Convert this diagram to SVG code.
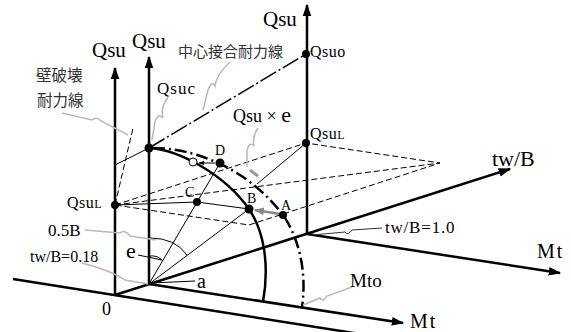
<svg xmlns="http://www.w3.org/2000/svg" width="571" height="332" viewBox="0 0 571 332">
<defs>
<marker id="arr" viewBox="0 0 10 10" refX="9" refY="5" markerWidth="5" markerHeight="5" orient="auto" markerUnits="strokeWidth"><path d="M0,1.5 L10,5 L0,8.5 Z" fill="#000"/></marker>
<marker id="arrs" viewBox="0 0 10 10" refX="9" refY="5" markerWidth="6" markerHeight="6" orient="auto" markerUnits="strokeWidth"><path d="M0,1 L10,5 L0,9 Z" fill="#000"/></marker>
<marker id="arrg" viewBox="0 0 10 10" refX="9" refY="5" markerWidth="4" markerHeight="4" orient="auto" markerUnits="strokeWidth"><path d="M0,1 L10,5 L0,9 Z" fill="#888"/></marker>
<pattern id="dots" width="5" height="5" patternUnits="userSpaceOnUse"><circle cx="1.5" cy="1.5" r="1" fill="#d8d8d8"/></pattern>
<style>
.ax{stroke:#000;stroke-width:2.5;fill:none}
.thin{stroke:#000;stroke-width:1;fill:none}
.dash{stroke:#000;stroke-width:1;fill:none;stroke-dasharray:6,3}
.dd{stroke:#000;stroke-width:2.5;fill:none;stroke-dasharray:12,4,2,4}
.cl{stroke:#000;stroke-width:1.5;fill:none;stroke-dasharray:18,3,2,3}
.lead{stroke:#b8b8b8;stroke-width:1.5;fill:none}
.dot{fill:#000}
</style>
</defs>
<g id="plane">
<path d="M115,205 L306,143 L440,163 L249,225 Z" fill="url(#dots)" class="dash"/>
<path d="M115,205 L440,163" class="dash"/>
</g>
<g id="connectors">
<path d="M13,279 L360,334" class="ax"/>
<path d="M149,284 L403,323" class="ax" marker-end="url(#arr)"/>
<path d="M307,234 L560,273" class="ax" marker-end="url(#arr)"/>
<path d="M115,295 L510,169" class="ax" marker-end="url(#arr)"/>
<path d="M115,295 L115,68" class="ax" marker-end="url(#arr)"/>
<path d="M149,284 L149,57" class="ax" marker-end="url(#arr)"/>
<path d="M307,234 L307,5" class="ax" marker-end="url(#arr)"/>
<path d="M149,284 L220,163" class="thin"/>
<path d="M149,284 L249,209" class="thin"/>
<path d="M115,205 L197,202 L249,209" class="thin"/>
<path d="M115,165 L149,148" class="thin"/>
<path d="M115,205 L133,128" class="dash"/>
<path d="M149,148 L306,54" class="cl"/>
<path d="M149,148 C180,150 225,175 249,209 C263,230 270,262 263,302" stroke="#000" stroke-width="2.5" fill="none"/>
<path d="M153,148 C190,148 245,165 283,215 C295,232 308,265 302,307" class="dd"/>
<path d="M306,143 L257,184" class="thin"/>
<path d="M149,256 Q158,255 163,261" class="thin"/>
<path d="M150,238 Q175,238 187,255" class="thin"/>
<path d="M138,255 L162,260" class="thin"/>
<path d="M152,283 L195,281" class="thin"/>
<path d="M215,163 L199,163" class="thin" stroke-width="1.5" marker-end="url(#arrs)"/>
<path d="M280,214 L255,210" stroke="#888" stroke-width="2.5" fill="none" marker-end="url(#arrg)"/>
<path d="M62,113 L92,120 Q97,116 101,121 L128,135" class="lead"/>
<path d="M168,97 Q160,108 163,118 Q158,112 155,122 L152,140" class="lead"/>
<path d="M230,62 Q216,75 215,86 Q212,80 208,90 L203,110" class="lead"/>
<path d="M258,128 Q252,137 254,146 Q250,141 247,150 L247,167" class="lead"/>
<path d="M250,170 L258,176" stroke="#999" stroke-width="3"/>
<path d="M85,230 L120,233 Q125,229 130,236 L156,240" class="lead"/>
<path d="M82,263 Q110,270 125,280 L148,284" class="lead"/>
<path d="M303,305 L320,298 Q323,303 327,296 L352,287" class="lead"/>
<path d="M312,235 L345,232 Q348,236 352,230 L382,228" stroke="#333" stroke-width="1" fill="none"/>
</g>
<g id="points">
<circle cx="149" cy="148" r="4.5" class="dot"/>
<circle cx="306" cy="54" r="4" class="dot"/>
<circle cx="306" cy="143" r="4" class="dot"/>
<circle cx="115" cy="205" r="4" class="dot"/>
<circle cx="197" cy="202" r="4" class="dot"/>
<circle cx="249" cy="209" r="4.5" class="dot"/>
<circle cx="283" cy="215" r="4" class="dot"/>
<circle cx="220" cy="163" r="4.5" class="dot"/>
<circle cx="193" cy="162" r="4" fill="#fff" stroke="#000" stroke-width="1"/>
</g>
<g id="labels" font-family="'Liberation Serif', 'DejaVu Serif', serif" fill="#000">
<text x="92" y="57" font-size="21">Qsu</text>
<text x="132" y="48" font-size="21">Qsu</text>
<text x="263" y="26" font-size="21">Qsu</text>
<text x="310" y="57" font-size="16" letter-spacing="0.5">Qsuo</text>
<text x="157" y="94" font-size="17" letter-spacing="1">Qsuc</text>
<text x="310" y="139" font-size="16" letter-spacing="0.5">Qsu<tspan font-size="12">L</tspan></text>
<text x="67" y="208" font-size="16" letter-spacing="0.5">Qsu<tspan font-size="12">L</tspan></text>
<text x="233" y="122" font-size="18">Qsu × <tspan font-size="22">e</tspan></text>
<text x="215" y="155" font-size="14">D</text>
<text x="185" y="197" font-size="14">C</text>
<text x="247" y="203" font-size="14">B</text>
<text x="281" y="210" font-size="14">A</text>
<text x="197" y="288" font-size="20">a</text>
<text x="126" y="258" font-size="22">e</text>
<text x="48" y="236" font-size="17">0.5B</text>
<text x="30" y="262" font-size="16">tw/B=0.18</text>
<text x="102" y="315" font-size="18">0</text>
<text x="385" y="233" font-size="17" letter-spacing="0.8">tw/B=1.0</text>
<text x="492" y="166" font-size="22">tw/B</text>
<text x="537" y="258" font-size="20" letter-spacing="2">Mt</text>
<text x="410" y="328" font-size="20" letter-spacing="2">Mt</text>
<text x="350" y="287" font-size="19">Mto</text>
</g>
<g id="jlabels" font-family="'Noto Sans CJK JP', 'Noto Sans', sans-serif" fill="#333">
<text x="178" y="57" font-size="15">中心接合耐力線</text>
<text x="36" y="81" font-size="15.5">壁破壊</text>
<text x="37" y="106" font-size="15.5">耐力線</text>
</g>
</svg>
